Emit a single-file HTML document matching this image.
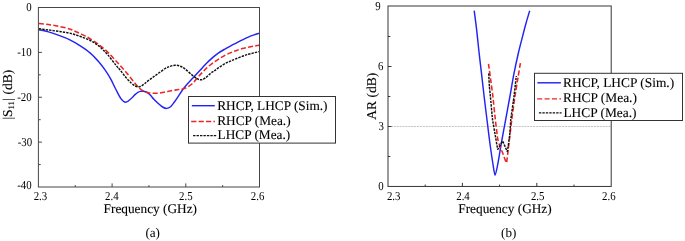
<!DOCTYPE html>
<html><head><meta charset="utf-8"><title>Figure</title>
<style>html,body{margin:0;padding:0;background:#fff}svg{display:block}text{font-family:"Liberation Serif",serif;fill:#000;stroke:#000;stroke-width:0.1px;text-rendering:geometricPrecision}text.t{stroke:none;fill:#000}</style></head><body>
<svg width="685" height="241" viewBox="0 0 685 241">
<rect width="685" height="241" fill="#fff"/>
<g id="left">
<path d="M38.90,29.50C40.50,29.90 45.17,30.92 48.50,31.90C51.83,32.88 55.42,34.12 58.90,35.40C62.38,36.68 65.90,37.90 69.40,39.60C72.90,41.30 76.42,43.35 79.90,45.60C83.38,47.85 87.17,50.40 90.30,53.10C93.43,55.80 96.22,58.95 98.70,61.80C101.18,64.65 103.23,67.38 105.20,70.20C107.17,73.02 108.75,75.57 110.50,78.70C112.25,81.83 113.97,85.68 115.70,89.00C117.43,92.32 119.22,96.38 120.90,98.60C122.58,100.82 124.13,102.27 125.80,102.30C127.47,102.33 129.65,99.78 130.90,98.80C132.15,97.82 132.52,97.18 133.30,96.40C134.08,95.62 134.83,94.78 135.60,94.10C136.37,93.42 137.10,92.75 137.90,92.30C138.70,91.85 139.45,91.57 140.40,91.40C141.35,91.23 142.47,91.12 143.60,91.30C144.73,91.48 146.13,91.93 147.20,92.50C148.27,93.07 148.88,93.58 150.00,94.70C151.12,95.82 152.52,97.73 153.90,99.20C155.28,100.67 156.85,102.20 158.30,103.50C159.75,104.80 161.20,106.18 162.60,107.00C164.00,107.82 165.37,108.45 166.70,108.40C168.03,108.35 169.35,107.72 170.60,106.70C171.85,105.68 172.87,104.12 174.20,102.30C175.53,100.48 177.13,97.97 178.60,95.80C180.07,93.63 181.52,91.30 183.00,89.30C184.48,87.30 185.93,85.60 187.50,83.80C189.07,82.00 190.77,80.25 192.40,78.50C194.03,76.75 195.70,75.02 197.30,73.30C198.90,71.58 200.42,69.92 202.00,68.20C203.58,66.48 205.03,64.77 206.80,63.00C208.57,61.23 210.68,59.25 212.60,57.60C214.52,55.95 216.32,54.48 218.30,53.10C220.28,51.72 222.42,50.50 224.50,49.30C226.58,48.10 228.78,46.97 230.80,45.90C232.82,44.83 234.67,43.90 236.60,42.90C238.53,41.90 240.45,40.87 242.40,39.90C244.35,38.93 246.35,37.93 248.30,37.10C250.25,36.27 252.25,35.57 254.10,34.90C255.95,34.23 258.52,33.40 259.40,33.10" fill="none" stroke="#2323f3" stroke-width="1.45"/>
<path d="M38.90,23.40C40.50,23.60 45.17,24.12 48.50,24.60C51.83,25.08 55.42,25.58 58.90,26.30C62.38,27.02 66.72,28.07 69.40,28.90C72.08,29.73 73.25,30.53 75.00,31.30C76.75,32.07 78.23,32.73 79.90,33.50C81.57,34.27 83.27,35.00 85.00,35.90C86.73,36.80 88.02,37.47 90.30,38.90C92.58,40.33 95.85,42.33 98.70,44.50C101.55,46.67 104.48,49.12 107.40,51.90C110.32,54.68 113.28,58.05 116.20,61.20C119.12,64.35 121.77,67.13 124.90,70.80C128.03,74.47 132.58,80.30 135.00,83.20C137.42,86.10 137.95,86.87 139.40,88.20C140.85,89.53 142.02,90.42 143.70,91.20C145.38,91.98 147.32,92.55 149.50,92.90C151.68,93.25 154.37,93.42 156.80,93.30C159.23,93.18 161.68,92.63 164.10,92.20C166.52,91.77 168.88,91.13 171.30,90.70C173.72,90.27 176.32,90.00 178.60,89.60C180.88,89.20 182.78,89.23 185.00,88.30C187.22,87.37 189.85,85.72 191.90,84.00C193.95,82.28 195.53,79.97 197.30,78.00C199.07,76.03 200.92,73.90 202.50,72.20C204.08,70.50 205.15,69.28 206.80,67.80C208.45,66.32 210.48,64.72 212.40,63.30C214.32,61.88 216.28,60.58 218.30,59.30C220.32,58.02 222.42,56.72 224.50,55.60C226.58,54.48 228.78,53.47 230.80,52.60C232.82,51.73 234.67,51.08 236.60,50.40C238.53,49.72 240.45,49.03 242.40,48.50C244.35,47.97 246.35,47.60 248.30,47.20C250.25,46.80 252.25,46.43 254.10,46.10C255.95,45.77 258.52,45.35 259.40,45.20" fill="none" stroke="#ee2323" stroke-width="1.55" stroke-dasharray="5 2.3"/>
<path d="M38.90,28.60C40.50,28.83 45.17,29.53 48.50,30.00C51.83,30.47 55.42,30.88 58.90,31.40C62.38,31.92 65.90,32.28 69.40,33.10C72.90,33.92 76.42,35.07 79.90,36.30C83.38,37.53 87.17,38.90 90.30,40.50C93.43,42.10 95.85,43.58 98.70,45.90C101.55,48.22 104.48,51.13 107.40,54.40C110.32,57.67 114.08,62.90 116.20,65.50C118.32,68.10 118.43,67.95 120.10,70.00C121.77,72.05 124.32,75.60 126.20,77.80C128.08,80.00 129.88,81.83 131.40,83.20C132.92,84.57 134.17,85.40 135.30,86.00C136.43,86.60 137.25,86.77 138.20,86.80C139.15,86.83 140.00,86.65 141.00,86.20C142.00,85.75 143.27,84.80 144.20,84.10C145.13,83.40 145.23,83.07 146.60,82.00C147.97,80.93 150.45,79.13 152.40,77.70C154.35,76.27 156.17,74.93 158.30,73.40C160.43,71.87 163.27,69.67 165.20,68.50C167.13,67.33 168.22,66.95 169.90,66.40C171.58,65.85 173.57,65.23 175.30,65.20C177.03,65.17 178.70,65.60 180.30,66.20C181.90,66.80 182.97,67.35 184.90,68.80C186.83,70.25 189.87,73.25 191.90,74.90C193.93,76.55 195.50,77.88 197.10,78.70C198.70,79.52 200.10,79.95 201.50,79.80C202.90,79.65 203.97,78.90 205.50,77.80C207.03,76.70 209.20,74.38 210.70,73.20C212.20,72.02 213.23,71.58 214.50,70.70C215.77,69.82 216.70,69.00 218.30,67.90C219.90,66.80 222.17,65.20 224.10,64.10C226.03,63.00 228.08,62.12 229.90,61.30C231.72,60.48 232.92,60.03 235.00,59.20C237.08,58.37 240.18,57.12 242.40,56.30C244.62,55.48 246.35,54.88 248.30,54.30C250.25,53.72 252.25,53.25 254.10,52.80C255.95,52.35 258.52,51.80 259.40,51.60" fill="none" stroke="#111" stroke-width="1.45" stroke-dasharray="2.4 1.05"/>
<rect x="38.4" y="7.5" width="221.10" height="179.50" fill="none" stroke="#474747" stroke-width="1"/>
<path d="M112.10,187.0v-3.6M185.80,187.0v-3.6M75.25,187.0v-1.9M148.95,187.0v-1.9M222.65,187.0v-1.9M38.4,52.38h3.5M38.4,97.25h3.5M38.4,142.12h3.5M38.4,29.94h2.3M38.4,74.81h2.3M38.4,119.69h2.3M38.4,164.56h2.3" fill="none" stroke="#474747" stroke-width="1"/>
<text class="t" transform="translate(31.60,11.40) scale(0.89,1)" font-size="12.2" text-anchor="end">0</text>
<text class="t" transform="translate(31.60,56.38) scale(0.89,1)" font-size="12.2" text-anchor="end">-10</text>
<text class="t" transform="translate(31.60,101.25) scale(0.89,1)" font-size="12.2" text-anchor="end">-20</text>
<text class="t" transform="translate(32.10,146.03) scale(0.89,1)" font-size="12.2" text-anchor="end">-30</text>
<text class="t" transform="translate(31.60,189.00) scale(0.89,1)" font-size="12.2" text-anchor="end">-40</text>
<text transform="translate(40.4,199.6) scale(0.89,1)" class="t" font-size="12.2" text-anchor="middle">2.3</text>
<text transform="translate(111.8,199.6) scale(0.89,1)" class="t" font-size="12.2" text-anchor="middle">2.4</text>
<text transform="translate(185.8,199.6) scale(0.89,1)" class="t" font-size="12.2" text-anchor="middle">2.5</text>
<text transform="translate(257.6,199.6) scale(0.89,1)" class="t" font-size="12.2" text-anchor="middle">2.6</text>
<text x="150.3" y="212.8" font-size="13.3" text-anchor="middle">Frequency (GHz)</text>
<text class="t" x="152.7" y="236.7" font-size="13.2" text-anchor="middle">(a)</text>
<text transform="translate(12,119.6) rotate(-90)" font-size="13.5">|S<tspan font-size="8.6" dy="2.2">11</tspan><tspan dy="-2.2">|</tspan><tspan dx="0.5"> (dB)</tspan></text>
<rect x="188.5" y="96.5" width="147" height="46.6" fill="#fff" stroke="#333" stroke-width="1"/>
<path d="M191.8,105.7H214.8" stroke="#2323f3" stroke-width="1.4" fill="none"/>
<path d="M191.2,121.4H214.9" stroke="#ee2323" stroke-width="1.45" stroke-dasharray="5.2 2.2" fill="none"/>
<path d="M193.1,135.5H216.2" stroke="#111" stroke-width="1.25" stroke-dasharray="2.4 1.05" fill="none"/>
<text x="217.2" y="109.7" font-size="13.3">RHCP, LHCP (Sim.)</text>
<text x="217.2" y="124.5" font-size="13.3">RHCP (Mea.)</text>
<text x="217.6" y="139.2" font-size="13.3">LHCP (Mea.)</text>
</g>
<g id="right">
<path d="M388.0,126.5H611.2" stroke="#9c9c9c" stroke-width="0.58" stroke-dasharray="2.1 0.8" fill="none"/>
<path d="M474.20,10.70C474.48,12.88 476.04,24.58 476.60,29.40C477.16,34.22 478.42,46.75 479.00,52.00C479.58,57.25 480.99,69.15 481.60,74.40C482.21,79.65 483.55,91.50 484.20,97.00C484.85,102.50 486.52,116.02 487.20,121.50C487.88,126.98 489.35,139.16 490.00,144.00C490.65,148.84 492.20,159.35 492.80,163.00C493.40,166.65 494.49,175.30 495.10,175.30C495.71,175.30 497.29,166.65 498.00,163.00C498.71,159.35 500.30,149.09 501.20,144.00C502.10,138.91 504.67,125.00 505.70,119.40C506.73,113.80 509.06,101.25 510.00,96.00C510.94,90.75 512.80,79.53 513.80,74.40C514.80,69.27 517.64,56.18 518.60,52.00C519.56,47.82 521.14,41.95 522.00,38.60C522.86,35.25 525.10,26.55 526.00,23.30C526.90,20.05 529.27,12.17 529.70,10.70" fill="none" stroke="#2323f3" stroke-width="1.45"/>
<path d="M488.50,63.80C488.60,64.55 490.92,81.29 491.10,82.60C491.28,83.91 492.73,95.03 492.90,96.50C493.07,97.97 495.11,117.70 495.30,119.40C495.49,121.10 497.52,137.94 497.70,139.00C497.88,140.06 499.60,145.44 499.80,146.00C500.00,146.56 502.43,152.32 502.70,153.00C502.97,153.68 506.26,163.26 506.50,163.00C506.74,162.74 508.47,147.63 508.60,146.60C508.73,145.57 509.57,138.39 509.70,137.30C509.83,136.21 511.59,121.03 511.80,119.40C512.01,117.77 514.67,98.06 514.90,96.50C515.13,94.94 517.28,81.83 517.50,80.50C517.72,79.17 520.28,63.89 520.40,63.20" fill="none" stroke="#ee2323" stroke-width="1.55" stroke-dasharray="5 2.3"/>
<path d="M488.70,73.40C488.72,73.75 489.35,85.98 489.40,86.60C489.45,87.22 490.32,95.63 490.40,96.50C490.48,97.37 492.37,118.34 492.50,119.40C492.63,120.46 495.26,135.40 495.40,136.20C495.54,137.00 497.51,149.17 497.70,149.30C497.89,149.43 502.44,141.14 502.70,141.20C502.96,141.26 507.11,151.67 507.30,151.50C507.49,151.33 509.61,135.86 509.70,135.00C509.79,134.14 510.69,120.43 510.80,119.40C510.91,118.37 513.89,97.32 514.00,96.50C514.11,95.68 514.84,89.25 514.90,88.70C514.96,88.15 516.26,76.34 516.30,76.00" fill="none" stroke="#111" stroke-width="1.45" stroke-dasharray="2.4 1.05"/>
<rect x="388.0" y="6.0" width="223.20" height="180.45" fill="none" stroke="#363636" stroke-width="1"/>
<path d="M462.40,186.45v-3.6M536.80,186.45v-3.6M425.20,186.45v-1.9M499.60,186.45v-1.9M574.00,186.45v-1.9M388.0,126.50h3.5M388.0,66.50h3.5M388.0,156.50h2.3M388.0,96.50h2.3M388.0,36.50h2.3" fill="none" stroke="#363636" stroke-width="1"/>
<text class="t" transform="translate(383.7,189.75) scale(0.89,1)" font-size="12.2" text-anchor="end">0</text>
<text class="t" transform="translate(383.8,130.20) scale(0.89,1)" font-size="12.2" text-anchor="end">3</text>
<text class="t" transform="translate(383.5,70.15) scale(0.89,1)" font-size="12.2" text-anchor="end">6</text>
<text class="t" transform="translate(380.6,9.90) scale(0.89,1)" font-size="12.2" text-anchor="end">9</text>
<text transform="translate(393.7,199.6) scale(0.89,1)" class="t" font-size="12.2" text-anchor="middle">2.3</text>
<text transform="translate(463,199.6) scale(0.89,1)" class="t" font-size="12.2" text-anchor="middle">2.4</text>
<text transform="translate(537.7,199.6) scale(0.89,1)" class="t" font-size="12.2" text-anchor="middle">2.5</text>
<text transform="translate(608.8,199.6) scale(0.89,1)" class="t" font-size="12.2" text-anchor="middle">2.6</text>
<text x="505.0" y="213.0" font-size="13.3" text-anchor="middle">Frequency (GHz)</text>
<text class="t" x="508.7" y="236.5" font-size="13.1" text-anchor="middle">(b)</text>
<text transform="translate(375.9,96.3) rotate(-90)" font-size="13.5" text-anchor="middle">AR (dB)</text>
<rect x="534.5" y="73.3" width="148" height="47.2" fill="#fff" stroke="#333" stroke-width="1"/>
<path d="M537.4,82.8H560.9" stroke="#2323f3" stroke-width="1.45" fill="none"/>
<path d="M537.2,98.85H561" stroke="#ee2323" stroke-width="1.45" stroke-dasharray="5 2.4" fill="none"/>
<path d="M538.9,112.9H561.6" stroke="#111" stroke-width="1.25" stroke-dasharray="2.4 1.05" fill="none"/>
<text x="563" y="87.1" font-size="13.4">RHCP, LHCP (Sim.)</text>
<text x="563" y="102.4" font-size="13.4">RHCP (Mea.)</text>
<text x="563.4" y="116.8" font-size="13.4">LHCP (Mea.)</text>
</g>
</svg></body></html>
